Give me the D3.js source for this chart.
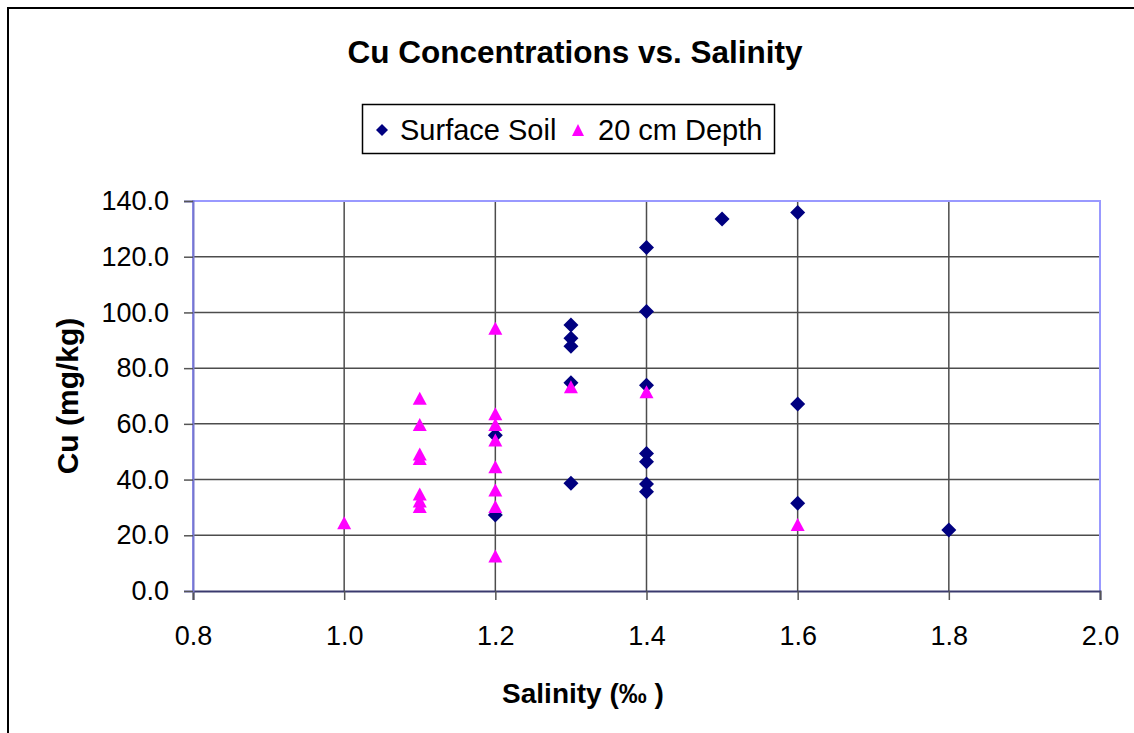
<!DOCTYPE html>
<html>
<head>
<meta charset="utf-8">
<script src="https://cdn.jsdelivr.net/npm/d3@7"></script>
<style>
  html, body { margin: 0; padding: 0; background: #fff; }
  svg { display: block; font-family: "Liberation Sans", Arial, sans-serif; }
</style>
</head>
<body>
<svg id="chart" width="1134" height="733"></svg>
<script>
// ---- Data ----
const surfaceX = [1.2, 1.2, 1.3, 1.3, 1.3, 1.3, 1.3, 1.4, 1.4, 1.4, 1.4, 1.4, 1.4, 1.4, 1.5, 1.6, 1.6, 1.6, 1.8];
const surfaceY = [55.9, 27.3, 95.5, 90.7, 87.9, 74.8, 38.7, 123.3, 100.3, 73.9, 49.4, 46.4, 38.4, 35.6, 133.5, 135.9, 67.1, 31.5, 21.9];
const depthX = [1.0, 1.1, 1.1, 1.1, 1.1, 1.1, 1.1, 1.1, 1.2, 1.2, 1.2, 1.2, 1.2, 1.2, 1.2, 1.2, 1.3, 1.4, 1.6];
const depthY = [24.5, 69.2, 59.8, 49.2, 47.6, 34.8, 32.3, 30.3, 94.3, 63.6, 59.8, 54.2, 44.6, 36.3, 30.3, 12.6, 73.3, 71.5, 23.9];
const xTicks = [0.8, 1.0, 1.2, 1.4, 1.6, 1.8, 2.0];
const yTicks = [0, 20, 40, 60, 80, 100, 120, 140];
const seriesNames = ["Surface Soil", "20 cm Depth"];
const titleText = "Cu Concentrations vs. Salinity";
const xTitle = "Salinity (‰ )";
const yTitle = "Cu (mg/kg)";

(function () {
const svg = d3.select("#chart");
const pL = 193, pR = 1100, pT = 201, pB = 591;

const x = d3.scaleLinear().domain([0.8, 2.0]).range([pL, pR]);
const y = d3.scaleLinear().domain([0, 140]).range([pB, pT]);

// outer chart border (cropped)
svg.append("path").attr("d", `M8,733 L8,8 L1134,8`).attr("fill", "none").attr("stroke", "#000").attr("stroke-width", 2);

// title
svg.append("text").attr("x", 575).attr("y", 63).attr("text-anchor", "middle")
  .attr("font-weight", "bold").attr("font-size", 31.5).text(titleText);

// gridlines
const grid = svg.append("g");
grid.selectAll("line.h").data(yTicks.filter(d => d > 0 && d < 140)).enter().append("line")
  .attr("x1", pL).attr("x2", pR).attr("y1", d => y(d)).attr("y2", d => y(d))
  .attr("stroke", "#4d4d4d").attr("stroke-width", 1.5);
grid.selectAll("line.v").data(xTicks.filter(d => d > 0.8 && d < 2.0)).enter().append("line")
  .attr("y1", pT).attr("y2", pB).attr("x1", d => x(d)).attr("x2", d => x(d))
  .attr("stroke", "#4d4d4d").attr("stroke-width", 1.5);

// plot border
svg.append("path").attr("d", `M${pL},${pB} L${pL},${pT} L${pR},${pT} L${pR},${pB}`)
  .attr("fill", "none").attr("stroke", "#9999ff").attr("stroke-width", 2);

// axes
const fmt = d3.format(".1f");
const xAxis = svg.append("g").attr("transform", `translate(0,${pB})`)
  .call(d3.axisBottom(x).tickValues(xTicks).tickFormat(fmt).tickSize(9).tickPadding(26));
const yAxis = svg.append("g").attr("transform", `translate(${pL},0)`)
  .call(d3.axisLeft(y).tickValues(yTicks).tickFormat(fmt).tickSize(9).tickPadding(15));
[xAxis, yAxis].forEach(a => {
  a.selectAll("text").attr("font-size", 27).attr("fill", "#000").attr("font-family", "Liberation Sans, Arial, sans-serif");
  a.selectAll(".tick line").attr("stroke", "#555").attr("stroke-width", 1.5);
});
xAxis.select(".domain").attr("stroke", "#3a3a6e").attr("stroke-width", 2);
yAxis.select(".domain").attr("stroke", "#7777cc").attr("stroke-width", 2);

// axis titles
svg.append("text").attr("x", 583).attr("y", 703).attr("text-anchor", "middle")
  .attr("font-weight", "bold").attr("font-size", 28).text(xTitle);
svg.append("text").attr("transform", `translate(78,396) rotate(-90)`).attr("text-anchor", "middle")
  .attr("font-weight", "bold").attr("font-size", 30).text(yTitle);

// marker shapes
const diamond = r => `M0,${-r}L${r},0L0,${r}L${-r},0Z`;
const triangle = (w, h) => `M0,${-h/2}L${w/2},${h/2}L${-w/2},${h/2}Z`;

// series
const s1 = surfaceX.map((d, i) => ({x: d, y: surfaceY[i]}));
const s2 = depthX.map((d, i) => ({x: d, y: depthY[i]}));
svg.append("g").selectAll("path").data(s1).enter().append("path")
  .attr("d", diamond(7.5)).attr("fill", "#000080")
  .attr("transform", d => `translate(${x(d.x)},${y(d.y)})`);
svg.append("g").selectAll("path").data(s2).enter().append("path")
  .attr("d", triangle(14, 13)).attr("fill", "#ff00ff")
  .attr("transform", d => `translate(${x(d.x)},${y(d.y)})`);

// legend
const lg = svg.append("g");
lg.append("rect").attr("x", 362.5).attr("y", 104.5).attr("width", 412).attr("height", 49)
  .attr("fill", "#fff").attr("stroke", "#000").attr("stroke-width", 1.5);
lg.append("path").attr("d", diamond(6)).attr("fill", "#000080").attr("transform", "translate(382,130)");
lg.append("text").attr("x", 400).attr("y", 140).attr("font-size", 29).text(seriesNames[0]);
lg.append("path").attr("d", triangle(12, 12)).attr("fill", "#ff00ff").attr("transform", "translate(578,130)");
lg.append("text").attr("x", 598).attr("y", 140).attr("font-size", 29).text(seriesNames[1]);
})();
</script>
</body>
</html>
